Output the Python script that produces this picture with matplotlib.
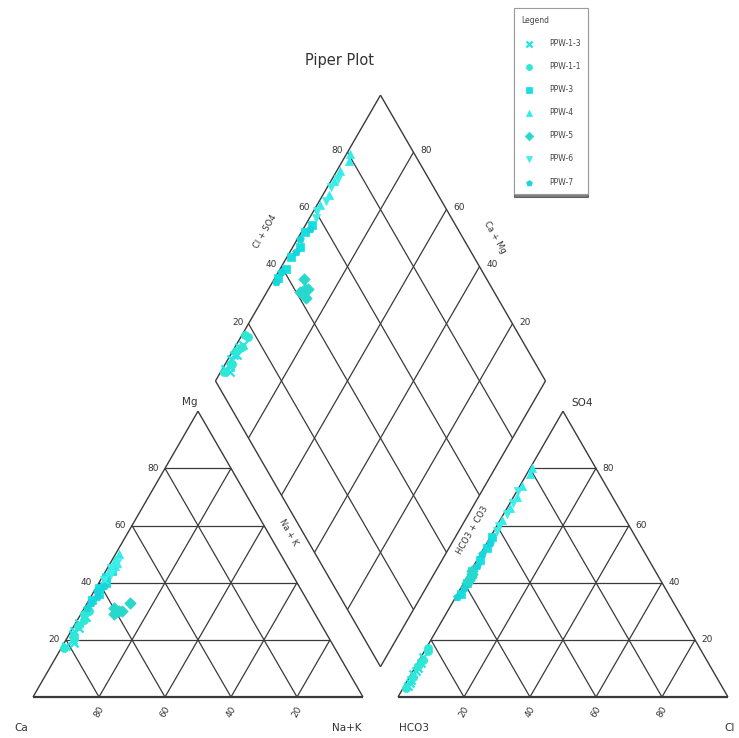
import numpy as np
import matplotlib
matplotlib.use("Agg")
import matplotlib.pyplot as plt

# ---------------- data (percent of meq) ----------------
sample_names = ["PPW-1-3", "PPW-1-1", "PPW-3", "PPW-4", "PPW-5", "PPW-6", "PPW-7"]
mg = [[18, 20, 22, 24, 26, 28, 19, 23],
      [21, 25, 27, 29, 30, 17],
      [34, 36, 38, 40, 42, 44],
      [44, 46, 48, 50, 47, 45],
      [29, 30, 31, 33, 30],
      [39, 41, 43, 45, 47],
      [31, 33, 35, 37, 39]]
na_k = [[1, 2, 1, 2, 1, 2, 3, 1],
        [2, 1, 2, 1, 2, 1],
        [1, 2, 1, 2, 1, 2],
        [1, 2, 1, 1, 2, 1],
        [10, 11, 9, 13, 12],
        [2, 1, 2, 1, 2],
        [1, 1, 2, 1, 2]]
so4 = [[4, 6, 8, 10, 12, 14, 5, 9],
       [7, 11, 13, 16, 17, 3],
       [36, 40, 44, 48, 52, 56],
       [62, 66, 70, 74, 78, 80],
       [40, 42, 44, 41, 43],
       [58, 60, 64, 68, 72],
       [35, 38, 46, 50, 54]]
cl = [[1, 1, 0.5, 1, 1, 0.5, 1, 1],
      [1, 0.5, 1, 1, 0.5, 1],
      [1, 1, 0.5, 1, 1, 0.5],
      [0.5, 1, 1, 0.5, 1, 0.5],
      [1, 1, 0.5, 1, 1],
      [1, 0.5, 1, 1, 0.5],
      [0.5, 1, 1, 0.5, 1]]
tick_vals = [20, 40, 60, 80]

marker_list = ["x", "o", "s", "^", "D", "v", "p"]
color_list = ["#22e6e6", "#2ee8d6", "#14e0e0", "#30ecec", "#28d8cc", "#40eee8", "#1ad4dc"]

# ---------------- geometry ----------------
h = np.sqrt(3) / 2
g = 0.106
lc = "#3a3a3a"
lw = 0.9

fig = plt.figure(figsize=(7.39, 7.38), dpi=100)
ax = fig.add_axes([0, 0, 1, 1])
ax.set_xlim(-0.1, 2.1394)
ax.set_ylim(-0.1242, 2.1121)
ax.axis("off")


def line(p, q, w=lw):
    ax.plot([p[0], q[0]], [p[1], q[1]], color=lc, lw=w, solid_capstyle="butt", zorder=1)


for x0 in (0.0, 1 + g):
    line((x0, 0), (x0 + 1, 0), 1.6)
    line((x0, 0), (x0 + 0.5, h), 1.0)
    line((x0 + 1, 0), (x0 + 0.5, h), 1.0)
    for v in tick_vals:
        f = v / 100
        line((x0 + f / 2, f * h), (x0 + 1 - f / 2, f * h))
        line((x0 + f, 0), (x0 + f + (1 - f) / 2, (1 - f) * h))
        line((x0 + f, 0), (x0 + f / 2, f * h))

# diamond
B = np.array([1 + g / 2, g * h])
U = np.array([-0.5, h])
V = np.array([0.5, h])
line(B, B + U, 1.0)
line(B, B + V, 1.0)
line(B + U, B + U + V, 1.0)
line(B + V, B + U + V, 1.0)
for v in tick_vals:
    f = v / 100
    line(B + f * U, B + f * U + V)
    line(B + f * V, B + f * V + U)

fs = 6.5
tc = "#333333"
# left triangle tick labels
for v in tick_vals:
    f = v / 100
    ax.text(f / 2 - 0.02, f * h, str(v), ha="right", va="center", fontsize=fs, color=tc)
    ax.text(f, -0.045, str(100 - v), ha="center", va="center", fontsize=fs, color=tc, rotation=60)
# right triangle tick labels
for v in tick_vals:
    f = v / 100
    x0 = 1 + g
    ax.text(x0 + 1 - f / 2 + 0.02, f * h, str(v), ha="left", va="center", fontsize=fs, color=tc)
    ax.text(x0 + f, -0.045, str(v), ha="center", va="center", fontsize=fs, color=tc, rotation=60)
# diamond tick labels
for v in tick_vals:
    f = v / 100
    p = B + U + f * V
    ax.text(p[0] - 0.015, p[1] + 0.005, str(v), ha="right", va="center", fontsize=fs, color=tc)
    q = B + V + (1 - f) * U
    ax.text(q[0] + 0.02, q[1] + 0.005, str(100 - v), ha="left", va="center", fontsize=fs, color=tc)

# axis names
nfs = 7.5
ax.text(0.476, 0.895, "Mg", ha="center", va="center", fontsize=nfs, color=tc)
ax.text(-0.035, -0.095, "Ca", ha="center", va="center", fontsize=nfs, color=tc)
ax.text(0.95, -0.095, "Na+K", ha="center", va="center", fontsize=nfs, color=tc)
ax.text(1.155, -0.095, "HCO3", ha="center", va="center", fontsize=nfs, color=tc)
ax.text(2.112, -0.095, "Cl", ha="center", va="center", fontsize=nfs, color=tc)
ax.text(1.665, 0.89, "SO4", ha="center", va="center", fontsize=nfs, color=tc)
ax.text(0.93, 1.93, "Piper Plot", ha="center", va="center", fontsize=10.5, color=tc)

dfs = 6
ax.text(0.705, 1.41, "Cl + SO4", ha="center", va="center", fontsize=dfs, color=tc, rotation=60)
ax.text(1.40, 1.394, "Ca + Mg", ha="center", va="center", fontsize=dfs, color=tc, rotation=-60)
ax.text(0.775, 0.5, "Na + K", ha="center", va="center", fontsize=dfs, color=tc, rotation=-60)
ax.text(1.33, 0.505, "HCO3 + CO3", ha="center", va="center", fontsize=dfs, color=tc, rotation=60)

# ---------------- data points ----------------
handles = []
for i, name in enumerate(sample_names):
    m = np.array(mg[i]) / 100
    n = np.array(na_k[i]) / 100
    s = np.array(so4[i]) / 100
    c = np.array(cl[i]) / 100
    xc = n + m / 2
    yc = m * h
    xa = 1 + g + c + s / 2
    ya = s * h
    t = 1 + g + c + s - n
    xd = n + 0.5 * t
    yd = t * h
    xs = np.concatenate([xc, xa, xd])
    ys = np.concatenate([yc, ya, yd])
    kw = dict(marker=marker_list[i], s=34, zorder=3, label=name)
    if marker_list[i] == "x":
        sc = ax.scatter(xs, ys, c=color_list[i], linewidths=1.6, **kw)
    else:
        sc = ax.scatter(xs, ys, c=color_list[i], edgecolors=color_list[i], linewidths=0.5, **kw)
    handles.append(sc)

leg = ax.legend(handles=handles, loc="upper left",
                bbox_to_anchor=(514 / 739, 1 - 8 / 738), bbox_transform=fig.transFigure,
                title="Legend", alignment="left", fontsize=5.5, title_fontsize=5.5,
                labelspacing=1.85, handletextpad=1.6, borderpad=1.0, borderaxespad=0,
                frameon=True, fancybox=False, shadow={"color": "black", "ox": 0, "oy": -2},
                markerscale=0.75)
leg.get_frame().set_edgecolor("#9a9a9a")
leg.get_frame().set_linewidth(0.8)
for txt in leg.get_texts():
    txt.set_color("#444444")
leg.get_title().set_color("#444444")

fig.savefig("out.png", dpi=100, facecolor="white")
